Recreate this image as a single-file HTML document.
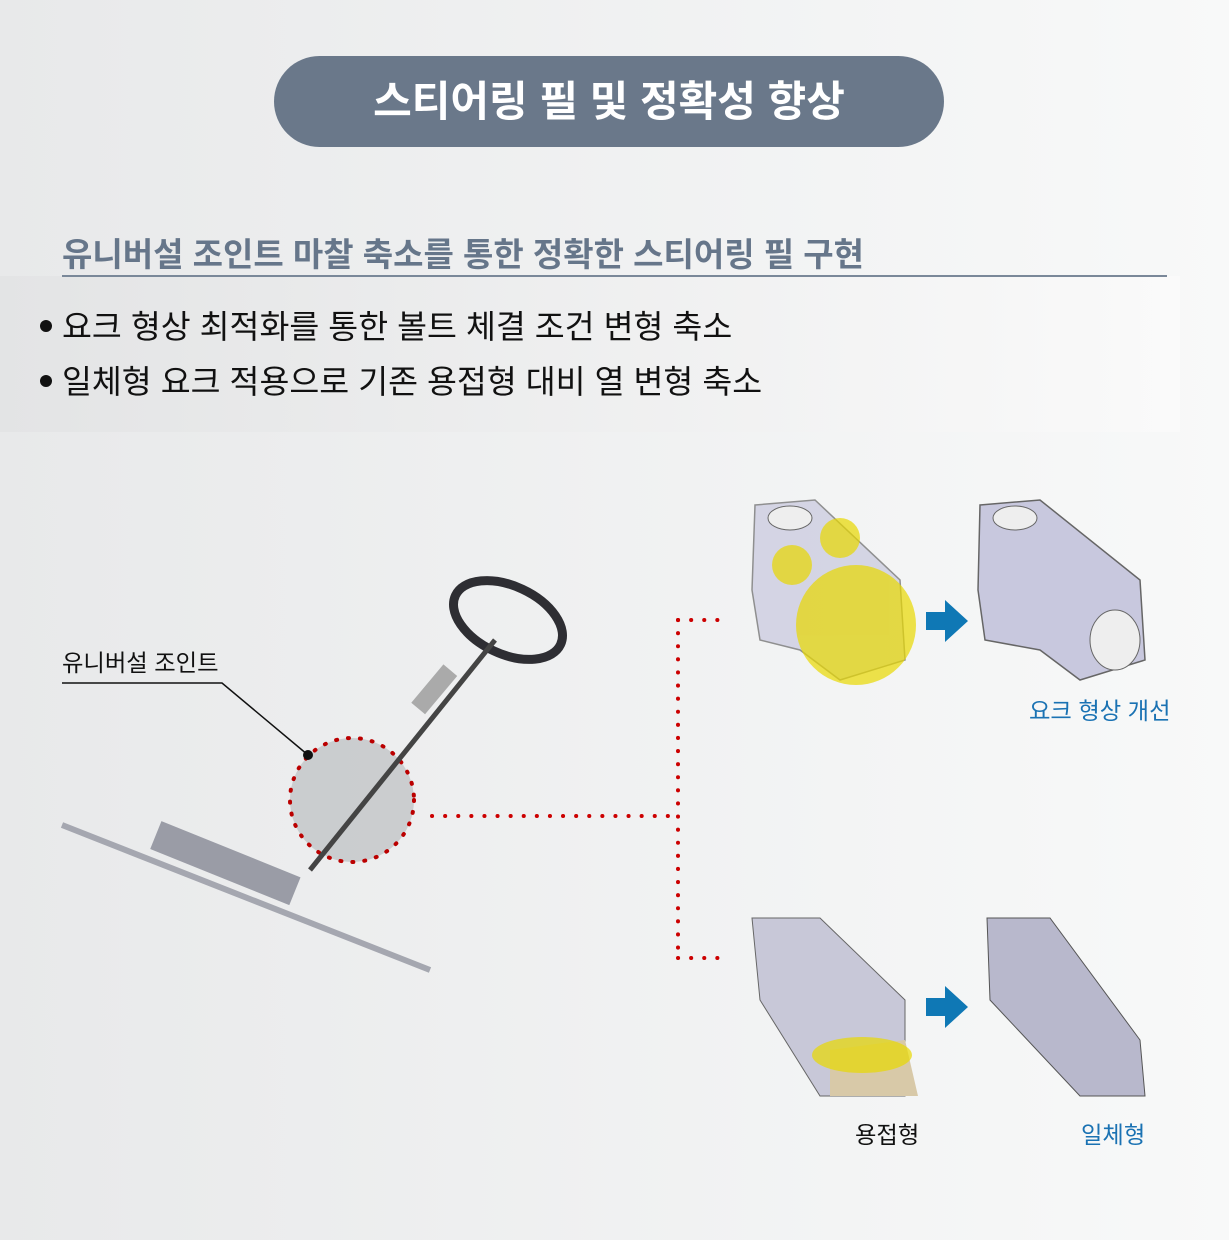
<!DOCTYPE html>
<html><head><meta charset="utf-8"><style>
body{margin:0;width:1229px;height:1240px;overflow:hidden;background:linear-gradient(90deg,#e8e9ea,#f8f9f9);font-family:"Liberation Sans","Noto Sans CJK KR",sans-serif;position:relative}
.a{position:absolute;white-space:nowrap}
</style></head><body>
<div class="a" style="left:274px;top:56px;width:670px;height:91px;border-radius:46px;background:#6a788a;color:#fff;font-size:42px;font-weight:bold;text-align:center;line-height:91px">스티어링 필 및 정확성 향상</div>
<div class="a" style="left:62px;top:228px;font-size:33px;font-weight:bold;color:#66768a">유니버설 조인트 마찰 축소를 통한 정확한 스티어링 필 구현</div>
<div class="a" style="left:0;top:276px;width:1180px;height:156px;background:linear-gradient(90deg,#e3e4e5,#fafafa)"></div>
<div class="a" style="left:62px;top:275px;width:1105px;height:2px;background:#7a8899"></div>
<div class="a" style="left:40px;top:320px;width:12px;height:12px;border-radius:50%;background:#111"></div>
<div class="a" style="left:40px;top:375px;width:12px;height:12px;border-radius:50%;background:#111"></div>
<div class="a" style="left:62px;top:301px;font-size:32.5px;color:#111">요크 형상 최적화를 통한 볼트 체결 조건 변형 축소</div>
<div class="a" style="left:62px;top:356px;font-size:32.5px;color:#111">일체형 요크 적용으로 기존 용접형 대비 열 변형 축소</div>
<div class="a" style="left:62px;top:644px;font-size:23.3px;color:#111">유니버설 조인트</div>
<div class="a" style="left:1029px;top:692px;font-size:23.3px;color:#1a72b3">요크 형상 개선</div>
<div class="a" style="left:855px;top:1116px;font-size:23.3px;color:#111">용접형</div>
<div class="a" style="left:1081px;top:1116px;font-size:23.3px;color:#1a72b3">일체형</div>
<svg class="a" style="left:0;top:0" width="1229" height="1240">
<ellipse cx="508" cy="620" rx="58" ry="34" transform="rotate(25 508 620)" fill="none" stroke="#2e2e33" stroke-width="9"/>
<line x1="62" y1="825" x2="430" y2="970" stroke="#a5a7b0" stroke-width="6"/>
<rect x="150" y="850" width="150" height="30" fill="#9a9ca6" transform="rotate(22 230 865)"/>
<circle cx="352" cy="800" r="62" fill="#c7c9cb" opacity="0.9"/>
<circle cx="352" cy="800" r="62" fill="none" stroke="#b00" stroke-width="4" stroke-dasharray="1 11" stroke-linecap="round"/>
<line x1="495" y1="640" x2="310" y2="870" stroke="#444" stroke-width="5"/>
<rect x="410" y="680" width="50" height="18" fill="#aaa" transform="rotate(-50 435 690)"/>
<polyline points="62,683 222,683 308,755" fill="none" stroke="#111" stroke-width="1.5"/>
<circle cx="308" cy="755" r="5" fill="#111"/>
<g fill="none" stroke="#c00" stroke-width="4" stroke-linecap="round" stroke-dasharray="0.1 13">
<line x1="432" y1="816" x2="678" y2="816"/>
<line x1="678" y1="620" x2="678" y2="958"/>
<line x1="678" y1="620" x2="728" y2="620"/>
<line x1="678" y1="958" x2="728" y2="958"/>
</g>
<g fill="#c8c8de" stroke="#666" stroke-width="1.5">
<path d="M755 505 L815 500 L900 580 L905 660 L840 680 L800 650 L760 640 L752 590Z" opacity="0.7"/>
<path d="M980 505 L1040 500 L1140 580 L1145 660 L1080 680 L1040 650 L985 640 L978 590Z"/>
</g>
<ellipse cx="790" cy="518" rx="22" ry="12" fill="#eee" stroke="#666"/>
<ellipse cx="1015" cy="518" rx="22" ry="12" fill="#eee" stroke="#666"/>
<g fill="#e8d800" opacity="0.7"><circle cx="840" cy="538" r="20"/><circle cx="792" cy="565" r="20"/><circle cx="856" cy="625" r="60"/></g>
<ellipse cx="1115" cy="640" rx="25" ry="30" fill="#eee" stroke="#666"/>
<path d="M752 918 L820 918 L905 1000 L905 1096 L820 1096 L760 1000Z" fill="#c8c8d8" stroke="#666"/>
<path d="M830 1050 L905 1040 L918 1096 L830 1096Z" fill="#d8c9a8"/>
<ellipse cx="862" cy="1055" rx="50" ry="18" fill="#e8d800" opacity="0.7"/>
<path d="M987 918 L1050 918 L1140 1040 L1145 1096 L1080 1096 L990 1000Z" fill="#b8b8cc" stroke="#555"/>
<g fill="#0f78b5"><path d="M926 612 L945 612 L945 600 L968 621 L945 642 L945 630 L926 630Z"/>
<path d="M926 998 L945 998 L945 986 L968 1007 L945 1028 L945 1016 L926 1016Z"/></g>
</svg>
</body></html>
